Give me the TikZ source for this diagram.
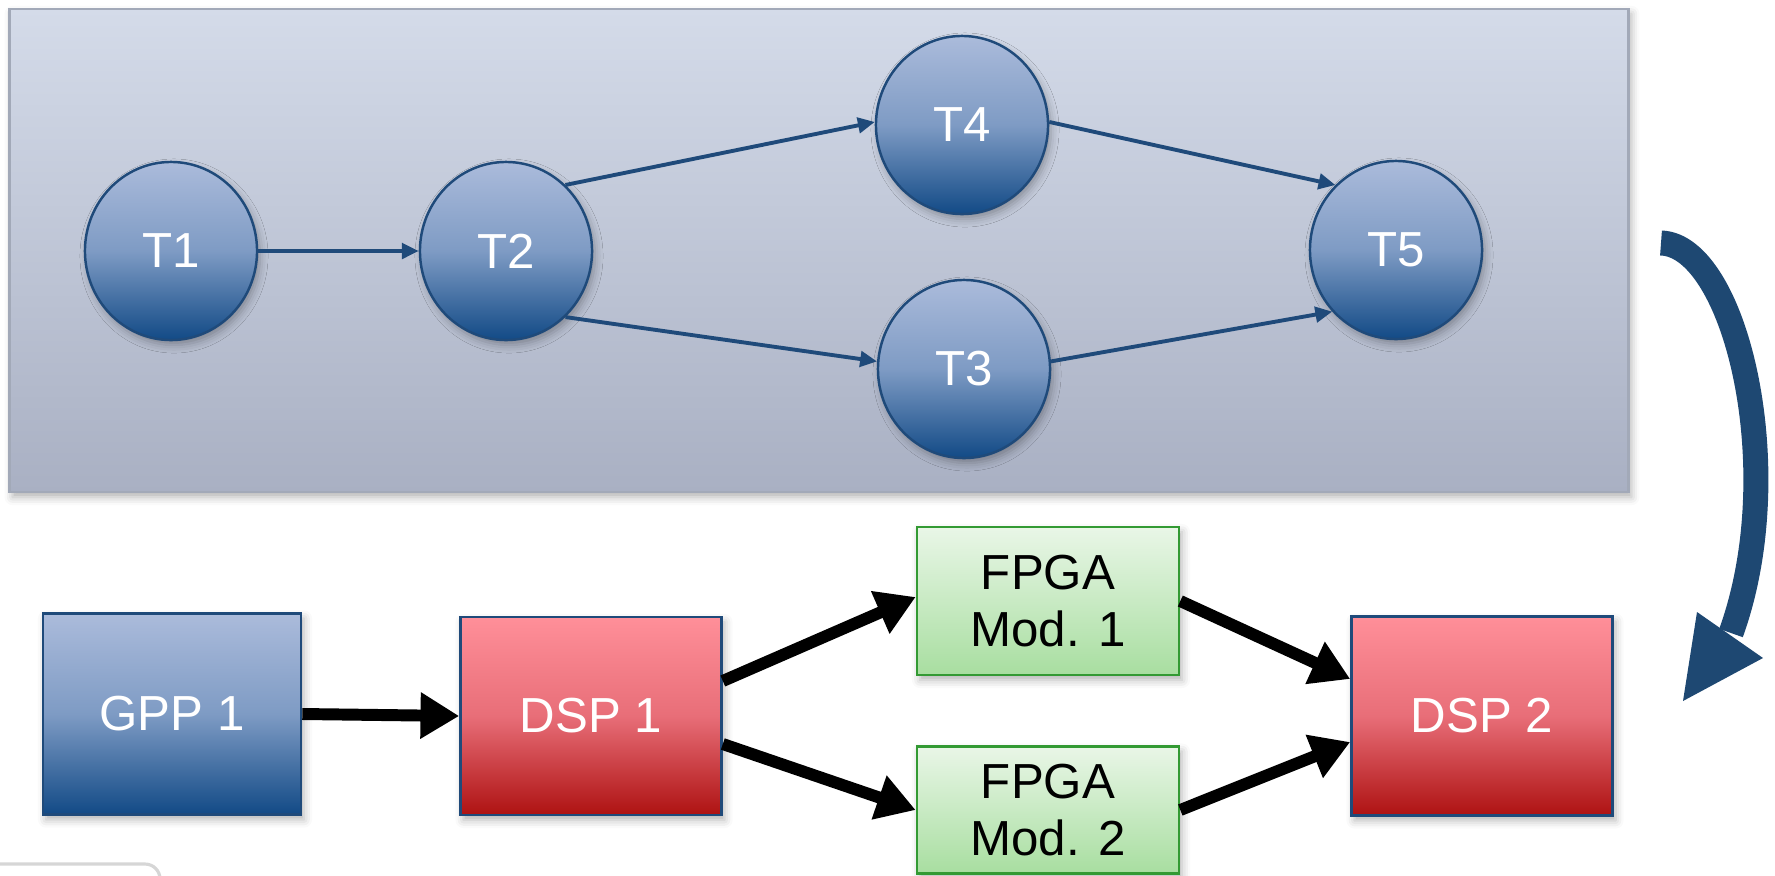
\documentclass[tikz,border=0pt]{standalone}
\usepackage{fontspec}
\setmainfont{Liberation Sans}
\usetikzlibrary{arrows.meta,shapes.geometric,shadows.blur}

\definecolor{navy}{HTML}{1E4872}
\definecolor{taskline}{HTML}{1F4A7A}
\definecolor{bluetop}{HTML}{ABBBDB}
\definecolor{bluemid}{HTML}{7E9BC4}
\definecolor{bluebot}{HTML}{124A86}
\definecolor{redtop}{HTML}{FF8F99}
\definecolor{redmid}{HTML}{E86E78}
\definecolor{redbot}{HTML}{AE1212}
\definecolor{greentop}{HTML}{E9F6E7}
\definecolor{greenbot}{HTML}{A8DEA0}
\definecolor{greenedge}{HTML}{339A33}
\definecolor{paneltop}{HTML}{D4DBE9}
\definecolor{panelbot}{HTML}{A9B0C3}
\definecolor{paneledge}{HTML}{A2A9B8}

\begin{document}
\begin{tikzpicture}[x=0.01cm,y=-0.01cm,
  soft/.style={blur shadow={shadow xshift=0.03cm,shadow yshift=-0.05cm,
      shadow blur radius=0.08cm,shadow opacity=30}},
  label/.style={font=\fontsize{14}{16.2}\selectfont,align=center},
  panel/.style={rectangle,draw=paneledge,line width=0.6pt,
      top color=paneltop,bottom color=panelbot,soft,inner sep=0pt},
  task/.style={ellipse,draw=taskline,line width=0.7pt,inner sep=0pt,
      minimum width=1.72cm,minimum height=1.78cm,
      top color=bluetop,bottom color=bluebot,middle color=bluemid,
      text=white,label,soft},
  gppbox/.style={rectangle,draw=taskline,line width=0.7pt,inner sep=0pt,
      top color=bluetop,bottom color=bluebot,middle color=bluemid,
      text=white,label,soft},
  dspbox/.style={rectangle,draw=taskline,line width=0.7pt,inner sep=0pt,
      top color=redtop,bottom color=redbot,middle color=redmid,
      text=white,label,soft},
  fpgabox/.style={rectangle,draw=greenedge,line width=0.7pt,inner sep=0pt,
      top color=greentop,bottom color=greenbot,
      text=black,label,soft},
  flow/.style={draw=taskline,line width=1.1pt,
      -{Triangle[length=4.8pt,width=4.4pt]}},
  bigflow/.style={draw=black,line width=3.4pt,
      -{Triangle[length=11pt,width=12.5pt]}}
]
\useasboundingbox (0,0) rectangle (1775,875);

% edge of a neighbouring box in the lower left corner
\draw[black!16,line width=0.9pt,rounded corners=0.15cm]
  (-20,864) -- (160,864) -- (160,920);

% task graph panel
\node[panel,minimum width=16.18cm,minimum height=4.83cm] (panel) at (819,250.5) {};

\node[task] (T1) at (171,251) {T1};
\node[task] (T2) at (506,251) {T2};
\node[task] (T4) at (962,125) {T4};
\node[task] (T3) at (964,369) {T3};
\node[task] (T5) at (1396,250) {T5};

\draw[flow] (T1.east) -- (T2.west);
\draw[flow] (T2.48) -- (T4.178);
\draw[flow] (T2.-48) -- (T3.175);
\draw[flow] (T4.2) -- (T5.133);
\draw[flow] (T3.5) -- (T5.224);

% mapping arrow
\coordinate (mapstart) at (1661,243);
\coordinate (mapend) at (1731,633);
\draw[navy,line width=0.25cm] (mapstart) .. controls (1735,245) and (1790,470) .. (mapend);
\fill[navy] (1697,612) -- (1763,658) -- (1683,701) -- cycle;

% hardware platform
\node[gppbox,minimum width=2.58cm,minimum height=2.01cm] (GPP) at (172,714) {GPP 1};
\node[dspbox,minimum width=2.61cm,minimum height=1.98cm] (DSP1) at (591,716) {DSP 1};
\node[fpgabox,minimum width=2.62cm,minimum height=1.48cm] (FPGA1) at (1048,601) {FPGA\\Mod. 1};
\node[fpgabox,minimum width=2.62cm,minimum height=1.27cm] (FPGA2) at (1048,810) {FPGA\\Mod. 2};
\node[dspbox,minimum width=2.61cm,minimum height=1.99cm] (DSP2) at (1482,716) {DSP 2};

\draw[bigflow] (GPP.east) -- (DSP1.west);
\draw[bigflow] ([yshift=0.35cm]DSP1.east) -- ([yshift=0.04cm]FPGA1.west);
\draw[bigflow] ([yshift=-0.28cm]DSP1.east) -- (FPGA2.west);
\draw[bigflow] (FPGA1.east) -- ([yshift=0.37cm]DSP2.west);
\draw[bigflow] (FPGA2.east) -- ([yshift=-0.26cm]DSP2.west);
\end{tikzpicture}
\end{document}
